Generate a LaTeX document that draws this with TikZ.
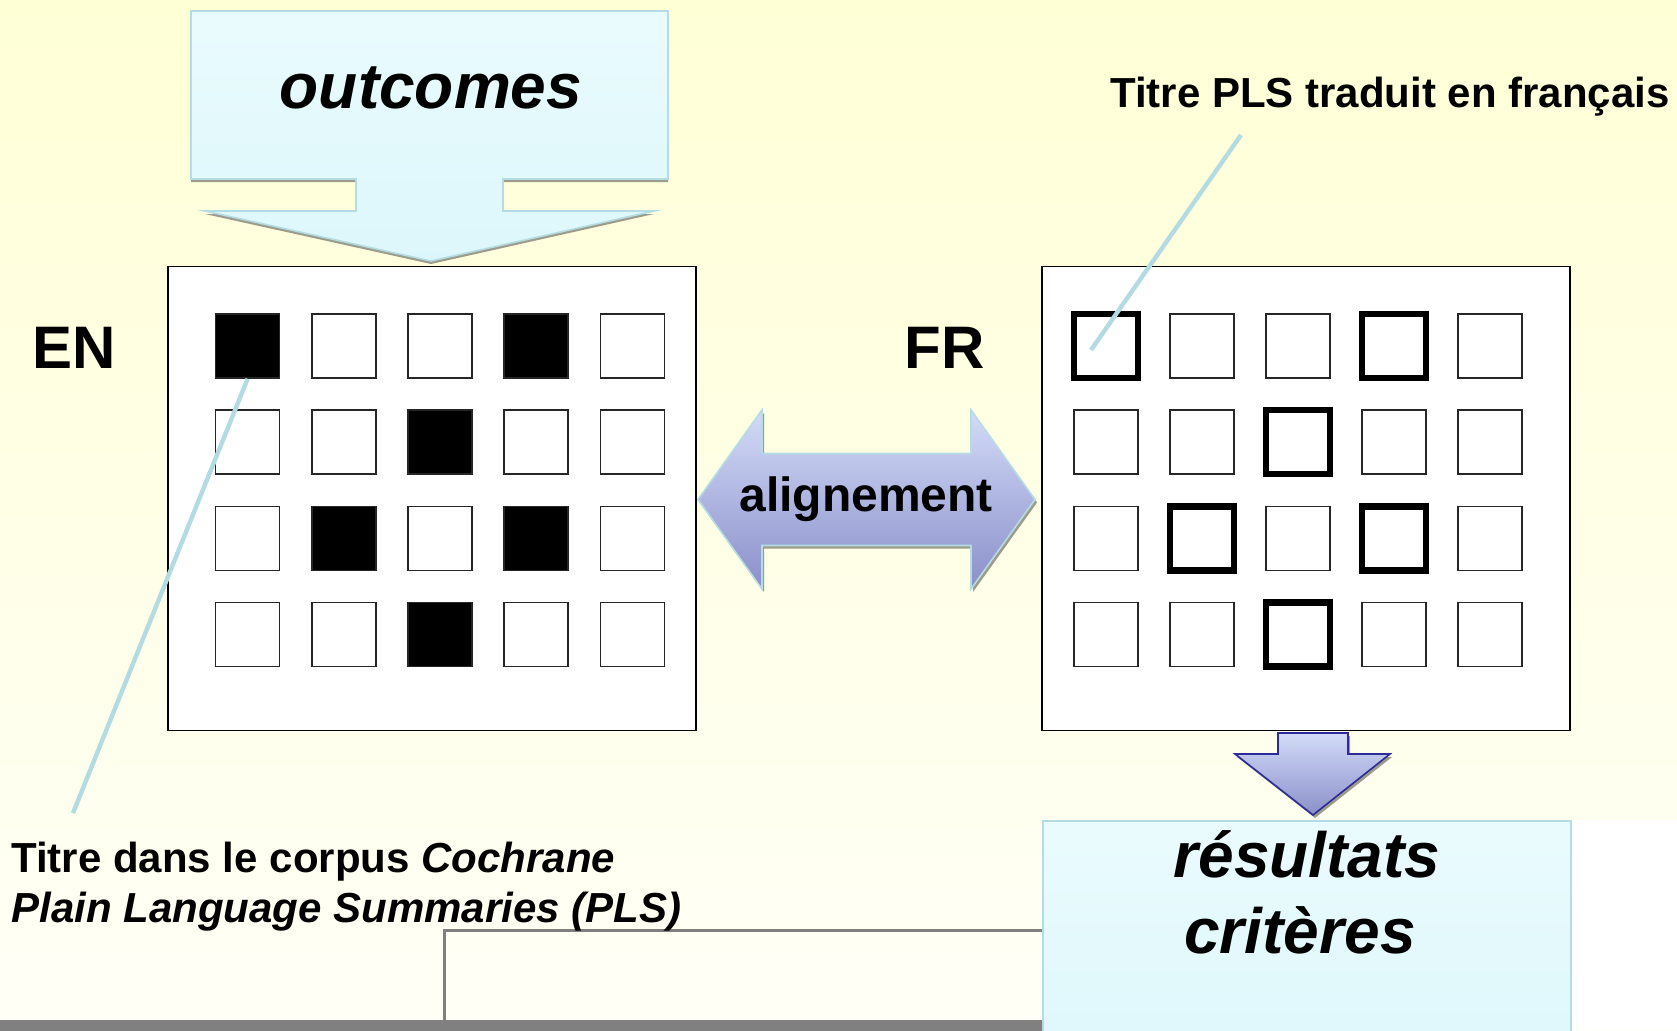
\documentclass[tikz,border=0pt]{standalone}
\usepackage{fontspec}
\setmainfont{Liberation Sans}
\usetikzlibrary{positioning}

\definecolor{bgtop}{HTML}{FFFFD6}
\definecolor{bgbot}{HTML}{FFFFF7}
\definecolor{skytop}{HTML}{EAFBFD}
\definecolor{skybot}{HTML}{DCF7FB}
\definecolor{skyline}{HTML}{B4DCE2}
\definecolor{lavtop}{HTML}{D3DBF8}
\definecolor{lavbot}{HTML}{8A8FC9}
\definecolor{navy}{HTML}{2B2B9A}
\definecolor{callout}{HTML}{B2DCE2}
\definecolor{shadowgray}{HTML}{9C9C8C}
\definecolor{railgray}{HTML}{808080}

\tikzset{
  cell/.style={draw=black!85, fill=white, line width=0.8pt, minimum size=32pt, inner sep=0pt},
  en0/.style={cell}, en1/.style={cell, fill=black},
  fr0/.style={cell}, fr1/.style={cell, draw=black, line width=3.2pt},
  panel/.style={draw=black, fill=white, line width=0.9pt, minimum width=264pt, minimum height=232pt, inner sep=0pt},
  big/.style={font=\bfseries\itshape\fontsize{32}{38}\selectfont, inner sep=0pt},
  lang/.style={font=\bfseries\fontsize{30}{36}\selectfont, inner sep=0pt},
  note/.style={font=\bfseries\fontsize{21}{25}\selectfont, inner sep=0pt},
  pointer/.style={draw=callout, line width=2.2pt}
}

\begin{document}
\begin{tikzpicture}[x=0.5pt,y=-0.5pt]
\useasboundingbox (0,0) rectangle (1677,1030);
\shade[top color=bgtop, bottom color=bgbot] (0,0) rectangle (1677,1030);
\fill[white] (1570,820) rectangle (1677,1030);

\fill[railgray] (0,1020) rectangle (1042,1032);
\draw[railgray, line width=1.5pt] (444,1021) |- (1042,930);

\node[panel] (enpanel) at (432,498.4) {};
\node[panel] (frpanel) at (1306,498.4) {};

\foreach \row [count=\r] in {{1,0,0,1,0},{0,0,1,0,0},{0,1,0,1,0},{0,0,1,0,0}}
  \foreach \m [count=\c] in \row {
    \node[en\m] (en-\r-\c) at ({151.4+96.2*\c},{249.8+96.2*\r}) {};
    \node[fr\m] (fr-\r-\c) at ({1009.7+96.1*\c},{249.8+96.2*\r}) {};
  }

\node[lang, anchor=base west] (en) at (32,368) {EN};
\node[lang, anchor=base west] (fr) at (904,368) {FR};

% outcomes
\fill[shadowgray, yshift=-1.5pt] (191,11) -- (668,11) -- (668,179) -- (503,179) -- (503,211) -- (654,211)
  -- (431,261) -- (205,211) -- (356,211) -- (356,179) -- (191,179) -- cycle;
\path[top color=skytop, bottom color=skybot, draw=skyline, line width=0.8pt]
  (191,11) -- (668,11) -- (668,179) -- (503,179) -- (503,211) -- (654,211)
  -- (431,261) -- (205,211) -- (356,211) -- (356,179) -- (191,179) -- cycle;
\node[big, anchor=base] (outcomes) at (431,108) {outcomes};

% alignement
\fill[shadowgray, xshift=1pt, yshift=-1.5pt] (698,499.5) -- (762,410) -- (762,453.5) -- (971,453.5) -- (971,410)
  -- (1035,499.5) -- (971,589) -- (971,545.5) -- (762,545.5) -- (762,589) -- cycle;
\path[top color=lavtop, bottom color=lavbot, draw=skyline, line width=0.8pt]
  (698,499.5) -- (762,410) -- (762,453.5) -- (971,453.5) -- (971,410)
  -- (1035,499.5) -- (971,589) -- (971,545.5) -- (762,545.5) -- (762,589) -- cycle;
\node[font=\bfseries\fontsize{24}{28}\selectfont, inner sep=0pt, anchor=base] (align) at (866,511) {alignement};

% resultats
\fill[shadowgray, xshift=1pt, yshift=-1.5pt] (1278,733) -- (1348,733) -- (1348,754) -- (1390,754) -- (1313,815)
  -- (1235,754) -- (1278,754) -- cycle;
\path[top color=lavtop, bottom color=lavbot, draw=navy, line width=0.8pt]
  (1278,733) -- (1348,733) -- (1348,754) -- (1390,754) -- (1313,815) -- (1235,754) -- (1278,754) -- cycle;
\node[draw=skyline, line width=0.8pt, top color=skytop, bottom color=skybot, minimum width=264pt,
  minimum height=140pt, anchor=north west, inner sep=0pt] (res) at (1042,820) {};
\node[big, anchor=base] (res-a) at (1307,877) {résultats};
\node[big, anchor=base] (res-b) at (1300,953) {critères};

% notes
\node[note, anchor=base east] (frnote) at (1670,107) {Titre PLS traduit en français};
\node[note, anchor=base west] (pls-a) at (11,872) {Titre dans le corpus \textit{Cochrane}};
\node[note, anchor=base west] (pls-b) at (11,922) {\textit{Plain Language Summaries (PLS)}};

\coordinate (enTip) at (73,813);
\coordinate (frTip) at (1241,135);
\coordinate (frEnd) at (1091,350);
\draw[pointer] (en-1-1.south) -- (enTip);
\draw[pointer] (frTip) -- (frEnd);
\end{tikzpicture}
\end{document}
